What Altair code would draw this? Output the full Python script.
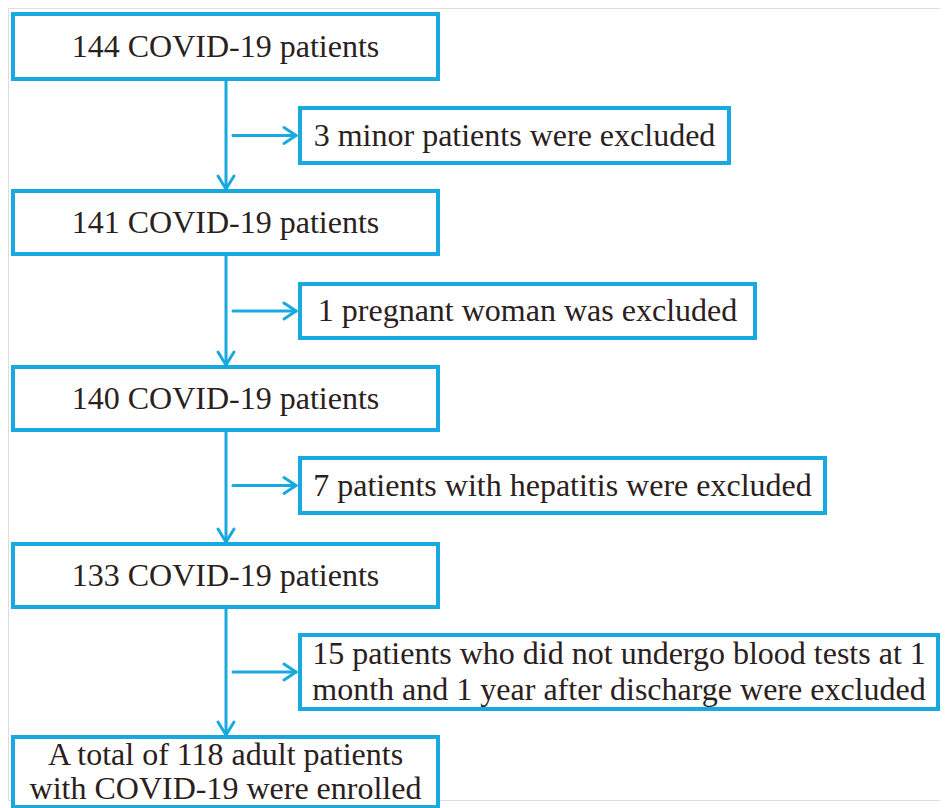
import altair as alt
import pandas as pd

# ---- content -------------------------------------------------------------
main_text = [
    ["144 COVID-19 patients"],
    ["141 COVID-19 patients"],
    ["140 COVID-19 patients"],
    ["133 COVID-19 patients"],
    ["A total of 118 adult patients", "with COVID-19 were enrolled"],
]
side_text = [
    ["3 minor patients were excluded"],
    ["1 pregnant woman was excluded"],
    ["7 patients with hepatitis were excluded"],
    ["15 patients who did not undergo blood tests at 1",
     "month and 1 year after discharge were excluded"],
]

# ---- layout (page pixel coordinates) -------------------------------------
main_left, main_right = 13, 438
main_top = [14, 191, 367, 544, 737]
main_bottom = [79, 254, 430, 607, 807]
main_gap = [0, 0, 0, 0, 34]
side_left = 300
side_right = [729, 755, 825, 938]
side_top = [108, 284, 458, 635]
side_bottom = [163, 338, 513, 709]
side_gap = [0, 0, 0, 36]
stem_x = 226
branch_start_x = 233

BLUE = "#19A9E1"
INK = "#2A2020"
FONT = "Liberation Serif"
W, H = 932, 792

# ---- build tables ----------------------------------------------------------
boxes = []
texts = []
for i, lines in enumerate(main_text):
    boxes.append(dict(x=main_left, x2=main_right, y=main_top[i], y2=main_bottom[i]))
    cy = (main_top[i] + main_bottom[i]) / 2
    n = len(lines)
    for k, t in enumerate(lines):
        texts.append(dict(x=(main_left + main_right) / 2,
                          y=cy + (k - (n - 1) / 2) * main_gap[i], t=t))
for i, lines in enumerate(side_text):
    boxes.append(dict(x=side_left, x2=side_right[i], y=side_top[i], y2=side_bottom[i]))
    cy = (side_top[i] + side_bottom[i]) / 2
    n = len(lines)
    for k, t in enumerate(lines):
        texts.append(dict(x=(side_left + side_right[i]) / 2,
                          y=cy + (k - (n - 1) / 2) * side_gap[i], t=t))

segs = []
# vertical arrows between main boxes
for i in range(len(main_top) - 1):
    y0, y1 = main_bottom[i] + 2, main_top[i + 1] - 2
    segs.append(dict(x=stem_x, x2=stem_x, y=y0, y2=y1))
    segs.append(dict(x=stem_x - 8, x2=stem_x, y=y1 - 13, y2=y1))
    segs.append(dict(x=stem_x + 8, x2=stem_x, y=y1 - 13, y2=y1))
# horizontal arrows to side boxes
for i in range(len(side_top)):
    cy = (side_top[i] + side_bottom[i]) / 2
    x1 = side_left - 4
    segs.append(dict(x=branch_start_x, x2=x1, y=cy, y2=cy))
    segs.append(dict(x=x1 - 12, x2=x1, y=cy - 8, y2=cy))
    segs.append(dict(x=x1 - 12, x2=x1, y=cy + 8, y2=cy))

boxes = pd.DataFrame(boxes)
texts = pd.DataFrame(texts)
segs = pd.DataFrame(segs)

xs = alt.Scale(domain=[8, 8 + W], nice=False, zero=False)
ys = alt.Scale(domain=[8, 8 + H], nice=False, zero=False, reverse=True)
X = lambda f: alt.X(f, type="quantitative", scale=xs, axis=None)
Y = lambda f: alt.Y(f, type="quantitative", scale=ys, axis=None)

arrows = alt.Chart(segs).mark_rule(color=BLUE, strokeWidth=3, strokeCap="round").encode(
    x=X("x"), x2="x2", y=Y("y"), y2="y2")

rects = alt.Chart(boxes).mark_rect(fill="white", stroke=BLUE, strokeWidth=4).encode(
    x=X("x"), x2="x2", y=Y("y"), y2="y2")

labels = alt.Chart(texts).mark_text(font=FONT, fontSize=32, color=INK,
                                    align="center", baseline="middle").encode(
    x=X("x"), y=Y("y"), text="t:N")

chart = alt.layer(arrows, rects, labels).properties(
    width=W, height=H, padding=0
).configure_view(strokeWidth=0, stroke="transparent").configure(background="white")

chart.save("out.html", embed_options={"renderer": "svg", "actions": False})
